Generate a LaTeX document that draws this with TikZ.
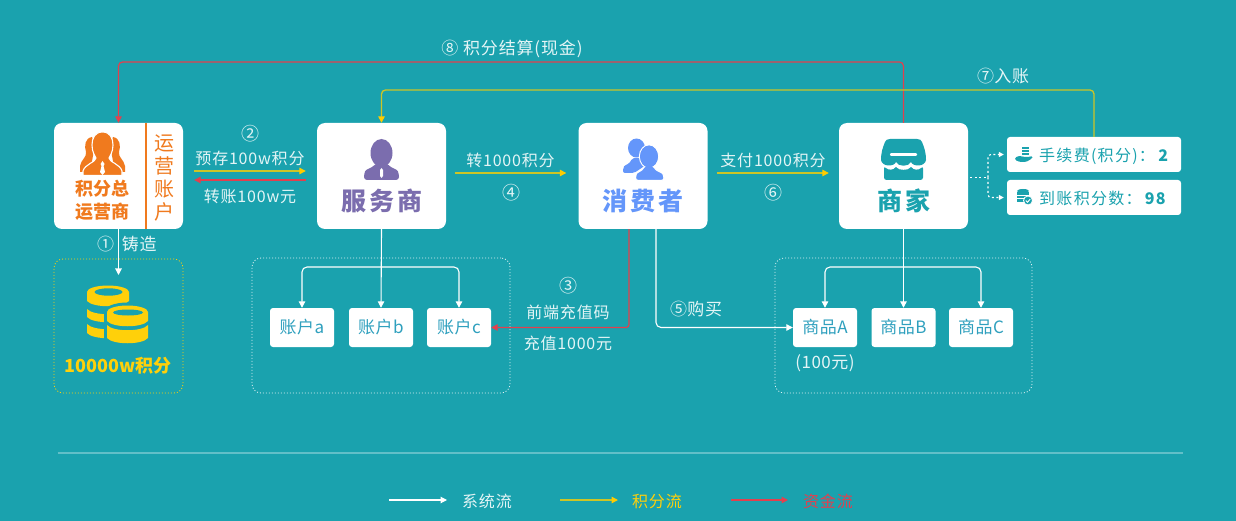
\documentclass[tikz,border=0pt]{standalone}
\usepackage{fontspec}
\setmainfont{Noto Sans CJK SC}
\usetikzlibrary{arrows.meta}
\definecolor{bgc}{HTML}{1AA2AE}
\definecolor{lab}{HTML}{E4F5F6}
\definecolor{yel}{HTML}{CDC526}
\definecolor{tipy}{HTML}{FFCC00}
\definecolor{redc}{HTML}{E2404E}
\definecolor{org}{HTML}{F07A1E}
\definecolor{pur}{HTML}{7B6DAE}
\definecolor{blu}{HTML}{6496FA}
\definecolor{gold}{HTML}{FFD00A}
\definecolor{acc}{HTML}{2FA0BE}
\definecolor{rule}{HTML}{62BFC8}
\newcommand{\fs}[1]{\fontsize{#1}{#1}\selectfont}
\newcommand{\fss}[2]{\fontsize{#1}{#1}\selectfont\addfontfeature{LetterSpace=#2}}
\tikzset{
  card/.style={fill=white,rounded corners=8pt,minimum width=129pt,minimum height=106pt,inner sep=0,draw=none},
  chip/.style={fill=white,rounded corners=3pt,minimum width=64pt,minimum height=39pt,inner sep=0,text=acc,font=\fss{17}{3}},
  side/.style={fill=white,rounded corners=3pt,minimum width=174pt,minimum height=35pt,inner sep=0},
  lbl/.style={inner sep=0,text=lab,font=\fss{16}{5}},
  dotbox/.style={rounded corners=9pt,line width=.8pt,dash pattern=on 1pt off 2pt,draw=white!85!bgc},
  wline/.style={draw=white,line width=1.1pt,rounded corners=5pt,-{Triangle[length=6.5pt,width=6.5pt]}},
  yline/.style={draw=yel,line width=1.3pt,rounded corners=3pt,-{Triangle[length=6.5pt,width=6.5pt,color=tipy]}},
  rline/.style={draw=redc,line width=1.2pt,rounded corners=3pt,-{Triangle[length=6.5pt,width=6.5pt]}},
  dline/.style={draw=white,line width=1.1pt,dash pattern=on 2pt off 2.5pt,rounded corners=3pt},
}
\begin{document}
\begin{tikzpicture}[x=1pt,y=-1pt]
\fill[bgc] (0,0) rectangle (1236,521);
\useasboundingbox (0,0) rectangle (1236,521);

% cards
\node[card] (op)  at (118.5,176) {};
\node[card] (svc) at (381.5,176) {};
\node[card] (con) at (643,176) {};
\node[card] (mer) at (903.5,176) {};
\node[side] (fee) at (1094,154.5) {};
\node[side] (net) at (1094,197.5) {};
\draw[org,line width=2pt] (145.5,123) -- (145.5,229);

% dotted groups
\node[dotbox,draw=gold,minimum width=129pt,minimum height=134pt] (coinbox) at (118.5,326) {};
\node[dotbox,minimum width=258pt,minimum height=135pt] (accbox) at (381,325.5) {};
\node[dotbox,minimum width=257pt,minimum height=135pt] (goodbox) at (903.5,325.5) {};

% chips
\node[chip] (a) at (302,327.5) {账户a};
\node[chip] (b) at (381,327.5) {账户b};
\node[chip] (c) at (459,327.5) {账户c};
\node[chip] (ga) at (825,327.5) {商品A};
\node[chip] (gb) at (903.5,327.5) {商品B};
\node[chip] (gc) at (981,327.5) {商品C};

% card text
\node[inner sep=0,text=org,font=\fs{18}\bfseries] (t1) at (102,189) {积分总};
\node[inner sep=0,text=org,font=\fs{18}\bfseries] (t2) at (102,211.5) {运营商};
\node[inner sep=0,text=org,font=\fs{20}] (v1) at (164.5,143) {运};
\node[inner sep=0,text=org,font=\fs{20}] (v2) at (164.5,165.5) {营};
\node[inner sep=0,text=org,font=\fs{20}] (v3) at (164.5,189) {账};
\node[inner sep=0,text=org,font=\fs{20}] (v4) at (164.5,212) {户};
\node[inner sep=0,text=pur,font=\fs{25}\bfseries] (t3) at (381.5,201) {服\hspace{3pt}务\hspace{3pt}商};
\node[inner sep=0,text=blu,font=\fs{25}\bfseries] (t4) at (643,201) {消\hspace{3pt}费\hspace{3pt}者};
\node[inner sep=0,text=bgc,font=\fs{25}\bfseries] (t5) at (904,201) {商\hspace{3pt}家};

% connectors
\draw[wline] (op.south) -- (118.5,275);
\draw[yline] ([yshift=5pt]op.east) ++(11,0) coordinate (y2s) -- ([xshift=-11pt]svc.west |- y2s);
\draw[rline] ([yshift=-4pt]svc.west) ++(-11,0) coordinate (r2s) -- ([xshift=11pt]op.east |- r2s);
\draw[yline] ([xshift=9pt,yshift=3pt]svc.east) -- ([xshift=-12pt,yshift=3pt]con.west);
\draw[yline] ([xshift=9pt,yshift=3pt]con.east) -- ([xshift=-10pt,yshift=3pt]mer.west);
\draw[rline,rounded corners=4pt] (mer.north) |- (500,62) -| (op.north);
\draw[yline,rounded corners=4pt] (fee.north) |- (700,90) -| (svc.north);
% account tree
\draw[wline] (svc.south) -- (b.north);
\draw[wline] (381,267) -| (a.north);
\draw[wline] (381,267) -| (c.north);
\draw[wline] (mer.south) -- (gb.north);
\draw[wline] (904,267) -| (ga.north);
\draw[wline] (904,267) -| (gc.north);
\draw[rline] ([xshift=-14pt]con.south) |- (c.east);
\draw[wline] ([xshift=13pt]con.south) |- (ga.west);
% dotted branches
\coordinate (mj) at (988,177.5);
\draw[dline] ([xshift=2pt,yshift=-1.5pt]mer.east) -- (mj);
\draw[dline,-{Triangle[length=5pt,width=5pt]}] (mj) |- ([xshift=-3pt]fee.west);
\draw[dline,-{Triangle[length=5pt,width=5pt]}] (mj) |- ([xshift=-3pt]net.west);

% labels
\node[lbl,font=\fss{17}{5}] (l8) at (512,48.5) {⑧ 积分结算(现金)};
\node[lbl,font=\fss{17}{3}] (l7) at (1003,76) {⑦入账};
\node[lbl,font=\fss{18}{0}] (l2) at (250,134) {②};
\node[lbl] (l2a) at (250,158) {预存100w积分};
\node[lbl] (l2b) at (250,196) {转账100w元};
\node[lbl,font=\fss{17}{5}] (l1) at (127,244) {①\hspace{3pt} 铸造};
\node[lbl] (l4a) at (510.5,160) {转1000积分};
\node[lbl,font=\fss{18}{0}] (l4) at (511,193) {④};
\node[lbl] (l6a) at (773,160) {支付1000积分};
\node[lbl,font=\fss{18}{0}] (l6) at (773,193) {⑥};
\node[lbl,font=\fss{18}{0}] (l3) at (568,286) {③};
\node[lbl] (l3a) at (568,312) {前端充值码};
\node[lbl] (l3b) at (568,343) {充值1000元};
\node[lbl,font=\fss{17}{3}] (l5) at (696,309) {⑤购买};
\node[lbl,font=\fss{17}{3}] (l100) at (825,363.5) {(100元)};
\node[inner sep=0,text=gold,font=\fs{18}\bfseries] (lcoin) at (118,366) {10000w积分};

% side text
\node[inner sep=0,anchor=west,text=bgc,font=\fss{16}{8}] (s1) at (1039,156) {手续费(积分)：\hspace{2pt}\textbf{2}};
\node[inner sep=0,anchor=west,text=bgc,font=\fss{16}{8}] (s2) at (1039,198) {到账积分数：\hspace{2pt}\textbf{98}};

% orange icon
\fill[org] (92,137) .. controls (85,138) and (84,146) .. (86,152) .. controls (87,157) and (81,160) .. (80,166) -- (80,172) -- (90,172) -- (95,145) -- cycle;
\fill[org] (113,137) .. controls (120,138) and (121,146) .. (119,152) .. controls (118,157) and (124,160) .. (125,166) -- (125,172) -- (115,172) -- (110,145) -- cycle;
\filldraw[org,draw=white,line width=1.1pt] (102.5,132) .. controls (110,132) and (113,138) .. (113,145) .. controls (113,152) and (110,156) .. (109,158) .. controls (109,162) and (120,164) .. (122,171) -- (122,175.5) -- (83,175.5) -- (83,171) .. controls (85,164) and (96,162) .. (96,158) .. controls (95,156) and (92,152) .. (92,145) .. controls (92,138) and (95,132) .. (102.5,132) -- cycle;
\fill[white] (102.5,161) -- (104.5,164) -- (103.5,166) -- (105,172) -- (102.5,175) -- (100,172) -- (101.5,166) -- (100.5,164) -- cycle;

% purple icon
\fill[pur] (381.5,153) ellipse [x radius=11,y radius=14];
\fill[pur,rounded corners=3pt] (364,180) -- (364,174) .. controls (366,169) and (372,168) .. (376,163) -- (387,163) .. controls (391,168) and (397,169) .. (399,174) -- (399,180) -- cycle;
\fill[white] (381.5,168) -- (383,170) -- (383,176) -- (381.5,178) -- (380,176) -- (380,170) -- cycle;

% blue icon
\fill[blu] (636.5,148) ellipse [x radius=8.5,y radius=9.5];
\fill[blu,rounded corners=2pt] (623,173) -- (623,168) .. controls (625,165) and (630,164) .. (632,158) -- (642,158) -- (646,165) -- (634,173) -- cycle;
\filldraw[blu,draw=white,line width=1.2pt] (649,156.5) ellipse [x radius=9.5,y radius=11.5];
\filldraw[blu,draw=white,line width=1.2pt,rounded corners=2.5pt] (635.5,180.5) -- (635.5,176) .. controls (637,172) and (642,171) .. (644,166) -- (654,166) .. controls (656,171) and (662,172) .. (664,176) -- (664,180.5) -- cycle;
\fill[blu] (649,156.5) ellipse [x radius=9,y radius=11];

% shop icon
\fill[bgc] (890,139) -- (917,139) .. controls (920,139) and (921,140) .. (922,142) .. controls (924,147) and (926,152) .. (926,160) .. controls (925,167) and (913,167) .. (911,162) .. controls (909,167) and (898,167) .. (896,162) .. controls (894,167) and (882,167) .. (881,160) .. controls (881,152) and (883,147) .. (885,142) .. controls (886,140) and (887,139) .. (890,139) -- cycle;
\draw[white,line width=2.4pt,line cap=round] (891,154.5) -- (916,154.5);
\fill[bgc,rounded corners=2.5pt] (884,166) .. controls (888,170.5) and (894,170) .. (896,165.5) .. controls (898,170.5) and (909,170.5) .. (911,165.5) .. controls (913,170) and (919,170.5) .. (923,166) -- (923,180) -- (884,180) -- cycle;

% coins
\newcommand{\cband}[5]{\fill[#5] (#1,#3) .. controls (#1+6,#3+7) and (#2-6,#3+7) .. (#2,#3) -- (#2,#4) .. controls (#2-6,#4+7) and (#1+6,#4+7) .. (#1,#4) -- cycle;}
\fill[gold] (108,292) ellipse [x radius=21,y radius=6.5];
\cband{87}{129}{292}{301}{gold}
\fill[bgc] (108.5,292) ellipse [x radius=14,y radius=3.7];
\cband{87}{129}{309}{317}{gold}
\cband{87}{129}{324}{333}{gold}
\fill[bgc] (127.5,312) ellipse [x radius=23.5,y radius=9.5];
\cband{104}{151}{312}{340}{bgc}
\fill[gold] (127.5,312) ellipse [x radius=20.5,y radius=6.5];
\cband{107}{148}{312}{321}{gold}
\fill[bgc] (128,312.5) ellipse [x radius=15,y radius=3];
\cband{107}{148}{325}{338}{gold}

% hand-coin icon
\fill[bgc] (1022,147) rectangle (1028.5,149);
\fill[bgc] (1021.5,150) rectangle (1029,152);
\fill[bgc] (1022,153) rectangle (1028.5,155);
\fill[bgc,rounded corners=1.5pt] (1015,158) .. controls (1018,155.5) and (1021,156) .. (1024,157) -- (1028,157) -- (1033,156) -- (1032,158.5) -- (1026,162) -- (1020,162) -- (1015,160) -- cycle;

% db-check icon
\fill[bgc] (1023,191) ellipse [x radius=6,y radius=2];
\fill[bgc] (1017,192.5) rectangle (1029,195);
\fill[bgc] (1017,196) rectangle (1029,198.5);
\fill[bgc] (1017,199.5) rectangle (1029,202.5);
\filldraw[bgc,draw=white,line width=.8pt] (1028,200.5) circle (4.5);
\draw[white,line width=.9pt] (1025.8,200.5) -- (1027.5,202.3) -- (1030.2,199.1);

% rule + legend
\node[inner sep=0] (rl) at (57,453) {};
\node[inner sep=0] (rr) at (1184,453) {};
\draw[rule,line width=1.2pt] (rl) -- (rr);
\coordinate (k1s) at (389,500); \coordinate (k1e) at (447,500);
\coordinate (k2s) at (560,500); \coordinate (k2e) at (618,500);
\coordinate (k3s) at (731,500); \coordinate (k3e) at (788,500);
\draw[wline] (k1s) -- (k1e);
\draw[yline] (k2s) -- (k2e);
\draw[rline] (k3s) -- (k3e);
\node[lbl] (k1) at (487,501) {系统流};
\node[lbl,text=gold] (k2) at (657,501) {积分流};
\node[lbl,text=redc] (k3) at (828,501) {资金流};
\end{tikzpicture}
\end{document}
